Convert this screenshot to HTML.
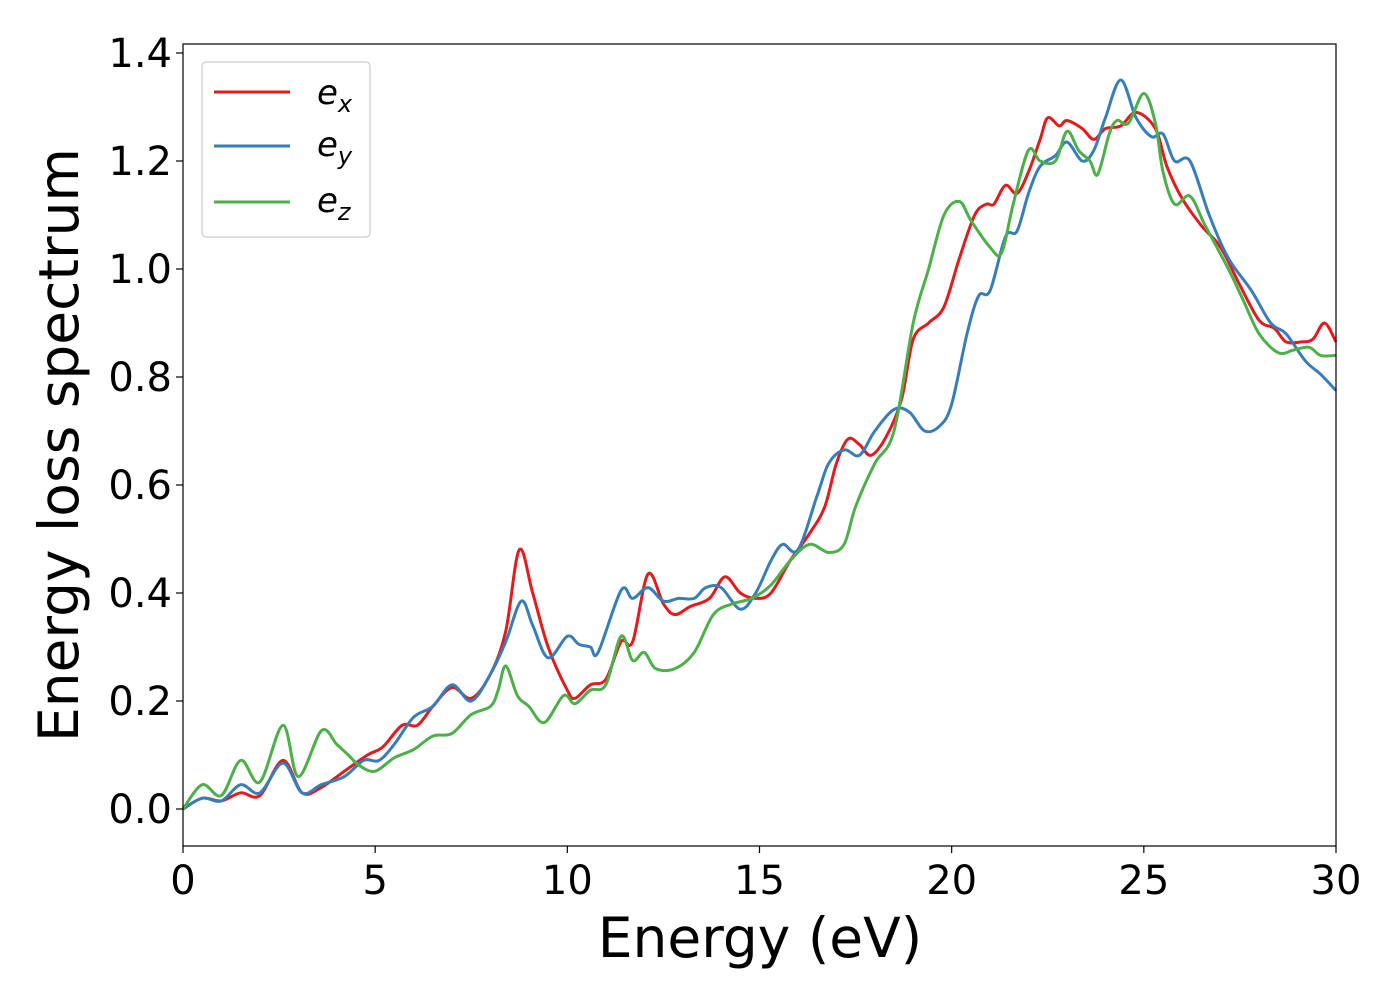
<!DOCTYPE html>
<html><head><meta charset="utf-8"><style>
html,body{margin:0;padding:0;background:#fff;}
svg text{font-family:"DejaVu Sans","Liberation Sans",sans-serif;}
</style></head><body>
<svg id="chart" width="1400" height="1000" viewBox="0 0 1400 1000" xmlns="http://www.w3.org/2000/svg">
<rect width="1400" height="1000" fill="#fff"/>
<g id="series"></g>
<rect x="183" y="44" width="1153" height="802" fill="none" stroke="#000" stroke-width="1.2"/>
<g id="xticks"></g>
<g id="yticks"></g>
<text x="760" y="957" font-size="55" text-anchor="middle">Energy (eV)</text>
<text transform="translate(78,445) rotate(-90)" font-size="55" text-anchor="middle">Energy loss spectrum</text>
<g>
<rect x="202" y="62" width="168" height="175" rx="4" fill="#fff" stroke="#ccc" stroke-width="1.2"/>
<g><line x1="214" y1="92" x2="290" y2="92" stroke="#e41a1c" stroke-width="3"/><text x="317" y="104" font-size="34" font-style="italic">e<tspan font-size="24" dy="8">x</tspan></text></g>
<g><line x1="214" y1="146" x2="290" y2="146" stroke="#377eb8" stroke-width="3"/><text x="317" y="156" font-size="34" font-style="italic">e<tspan font-size="24" dy="8">y</tspan></text></g>
<g><line x1="214" y1="202" x2="290" y2="202" stroke="#4daf4a" stroke-width="3"/><text x="317" y="212" font-size="34" font-style="italic">e<tspan font-size="24" dy="8">z</tspan></text></g>
</g>
</svg>
<script>
const xTicks=[0,5,10,15,20,25,30];
const yTicks=[0.0,0.2,0.4,0.6,0.8,1.0,1.2,1.4];
const exX=[0,0.5,1,1.5,2,2.6,3.1,3.6,4.2,4.8,5.2,5.7,6.1,6.5,7,7.5,8,8.4,8.75,9.1,9.5,10,10.2,10.6,11,11.4,11.7,12.1,12.5,12.8,13.2,13.7,14.1,14.5,14.9,15.3,15.8,16.3,16.7,17,17.3,17.6,17.9,18.3,18.7,19,19.4,19.8,20.2,20.6,20.9,21.1,21.4,21.7,22,22.3,22.5,22.8,23,23.4,23.7,24,24.4,24.8,25.3,25.6,26,26.5,27,27.5,28,28.4,28.7,29.1,29.4,29.7,30];
const exY=[0,0.02,0.015,0.03,0.025,0.09,0.03,0.04,0.07,0.1,0.115,0.155,0.155,0.19,0.225,0.205,0.25,0.33,0.48,0.4,0.3,0.22,0.205,0.23,0.24,0.31,0.31,0.435,0.38,0.36,0.375,0.39,0.43,0.4,0.39,0.4,0.46,0.51,0.56,0.64,0.685,0.675,0.655,0.69,0.76,0.87,0.9,0.93,1.02,1.1,1.12,1.12,1.155,1.14,1.18,1.24,1.28,1.265,1.275,1.26,1.24,1.26,1.265,1.29,1.26,1.19,1.13,1.08,1.04,0.97,0.905,0.89,0.865,0.865,0.87,0.9,0.865];
const eyX=[0,0.5,1,1.5,2,2.6,3.1,3.6,4.2,4.7,5.1,5.5,6,6.5,7,7.5,8,8.4,8.8,9.1,9.5,10,10.3,10.6,10.8,11.4,11.7,12.1,12.5,12.9,13.3,13.6,14,14.5,14.9,15.3,15.6,16,16.5,16.8,17.2,17.6,18,18.5,18.9,19.3,19.7,20,20.4,20.7,21,21.4,21.7,22,22.3,22.7,23,23.4,23.7,24,24.4,24.8,25.2,25.5,25.8,26.2,26.7,27.2,27.8,28.3,28.7,29.2,29.6,30];
const eyY=[0,0.02,0.015,0.045,0.03,0.085,0.03,0.045,0.06,0.09,0.09,0.12,0.17,0.19,0.23,0.2,0.25,0.31,0.385,0.34,0.28,0.32,0.305,0.3,0.29,0.405,0.39,0.41,0.385,0.39,0.39,0.41,0.41,0.37,0.4,0.46,0.49,0.48,0.58,0.64,0.665,0.655,0.7,0.74,0.735,0.7,0.71,0.75,0.88,0.95,0.96,1.06,1.07,1.14,1.19,1.21,1.235,1.2,1.22,1.28,1.35,1.28,1.245,1.25,1.2,1.2,1.1,1.02,0.96,0.9,0.88,0.83,0.805,0.775];
const ezX=[0,0.5,1,1.5,2,2.6,3,3.6,4,4.3,4.6,5,5.5,6,6.5,7,7.5,8,8.2,8.4,8.7,9,9.4,9.9,10.2,10.6,11,11.4,11.7,12,12.3,12.8,13.3,13.8,14.3,14.8,15.3,15.8,16.3,16.8,17.2,17.5,18,18.5,19,19.4,19.8,20.2,20.5,21,21.3,21.6,22,22.3,22.7,23,23.3,23.6,23.8,24.1,24.3,24.6,25,25.3,25.5,25.8,26.2,26.6,27.2,27.6,28,28.5,28.9,29.3,29.6,30];
const ezY=[0,0.045,0.025,0.09,0.05,0.155,0.06,0.145,0.12,0.1,0.08,0.07,0.095,0.11,0.135,0.14,0.175,0.19,0.22,0.265,0.21,0.19,0.16,0.21,0.195,0.22,0.23,0.32,0.275,0.29,0.26,0.26,0.29,0.36,0.38,0.39,0.415,0.46,0.49,0.475,0.49,0.56,0.64,0.7,0.9,1.0,1.1,1.125,1.09,1.04,1.03,1.12,1.22,1.2,1.2,1.255,1.22,1.2,1.175,1.25,1.275,1.27,1.325,1.27,1.18,1.12,1.135,1.08,1.0,0.94,0.88,0.845,0.85,0.855,0.84,0.84];
const X0=183,X1=1336,Y0=809,YS=540;
function sx(v){return X0+(X1-X0)*v/30;}
function sy(v){return Y0-YS*v;}
const NS='http://www.w3.org/2000/svg';
function pathFor(xs,ys){
  const p=xs.map((x,i)=>[sx(x),sy(ys[i])]);
  let d='M'+p[0][0].toFixed(1)+','+p[0][1].toFixed(1);
  for(let i=0;i<p.length-1;i++){
    const a=p[Math.max(i-1,0)],b=p[i],c=p[i+1],e=p[Math.min(i+2,p.length-1)];
    const c1=[b[0]+(c[0]-a[0])/6,b[1]+(c[1]-a[1])/6],c2=[c[0]-(e[0]-b[0])/6,c[1]-(e[1]-b[1])/6];
    d+='C'+c1[0].toFixed(1)+','+c1[1].toFixed(1)+' '+c2[0].toFixed(1)+','+c2[1].toFixed(1)+' '+c[0].toFixed(1)+','+c[1].toFixed(1);
  }
  return d;
}
const g=document.getElementById('series');
[[exX,exY,'#e41a1c','line-ex'],[eyX,eyY,'#377eb8','line-ey'],[ezX,ezY,'#4daf4a','line-ez']].forEach(s=>{
  const el=document.createElementNS(NS,'path');
  el.setAttribute('d',pathFor(s[0],s[1]));
  el.setAttribute('fill','none');el.setAttribute('stroke',s[2]);el.setAttribute('stroke-width','3');
  
  
  g.appendChild(el);
});
const gx=document.getElementById('xticks');
xTicks.forEach(t=>{
  const l=document.createElementNS(NS,'line');
  l.setAttribute('x1',sx(t));l.setAttribute('x2',sx(t));l.setAttribute('y1',846);l.setAttribute('y2',853);l.setAttribute('stroke','#000');l.setAttribute('stroke-width','1.2');
  
  
  gx.appendChild(l);
  const tx=document.createElementNS(NS,'text');
  tx.setAttribute('x',sx(t));tx.setAttribute('y',894);tx.setAttribute('font-size','40');tx.setAttribute('text-anchor','middle');
  tx.textContent=String(t);
  
  
  gx.appendChild(tx);
});
const gy=document.getElementById('yticks');
yTicks.forEach(t=>{
  const l=document.createElementNS(NS,'line');
  l.setAttribute('x1',176);l.setAttribute('x2',183);l.setAttribute('y1',sy(t));l.setAttribute('y2',sy(t));l.setAttribute('stroke','#000');l.setAttribute('stroke-width','1.2');
  
  
  gy.appendChild(l);
  const tx=document.createElementNS(NS,'text');
  tx.setAttribute('x',172);tx.setAttribute('y',sy(t)+14);tx.setAttribute('font-size','40');tx.setAttribute('text-anchor','end');
  tx.textContent=t.toFixed(1);
  
  
  gy.appendChild(tx);
});
</script>
</body></html>
